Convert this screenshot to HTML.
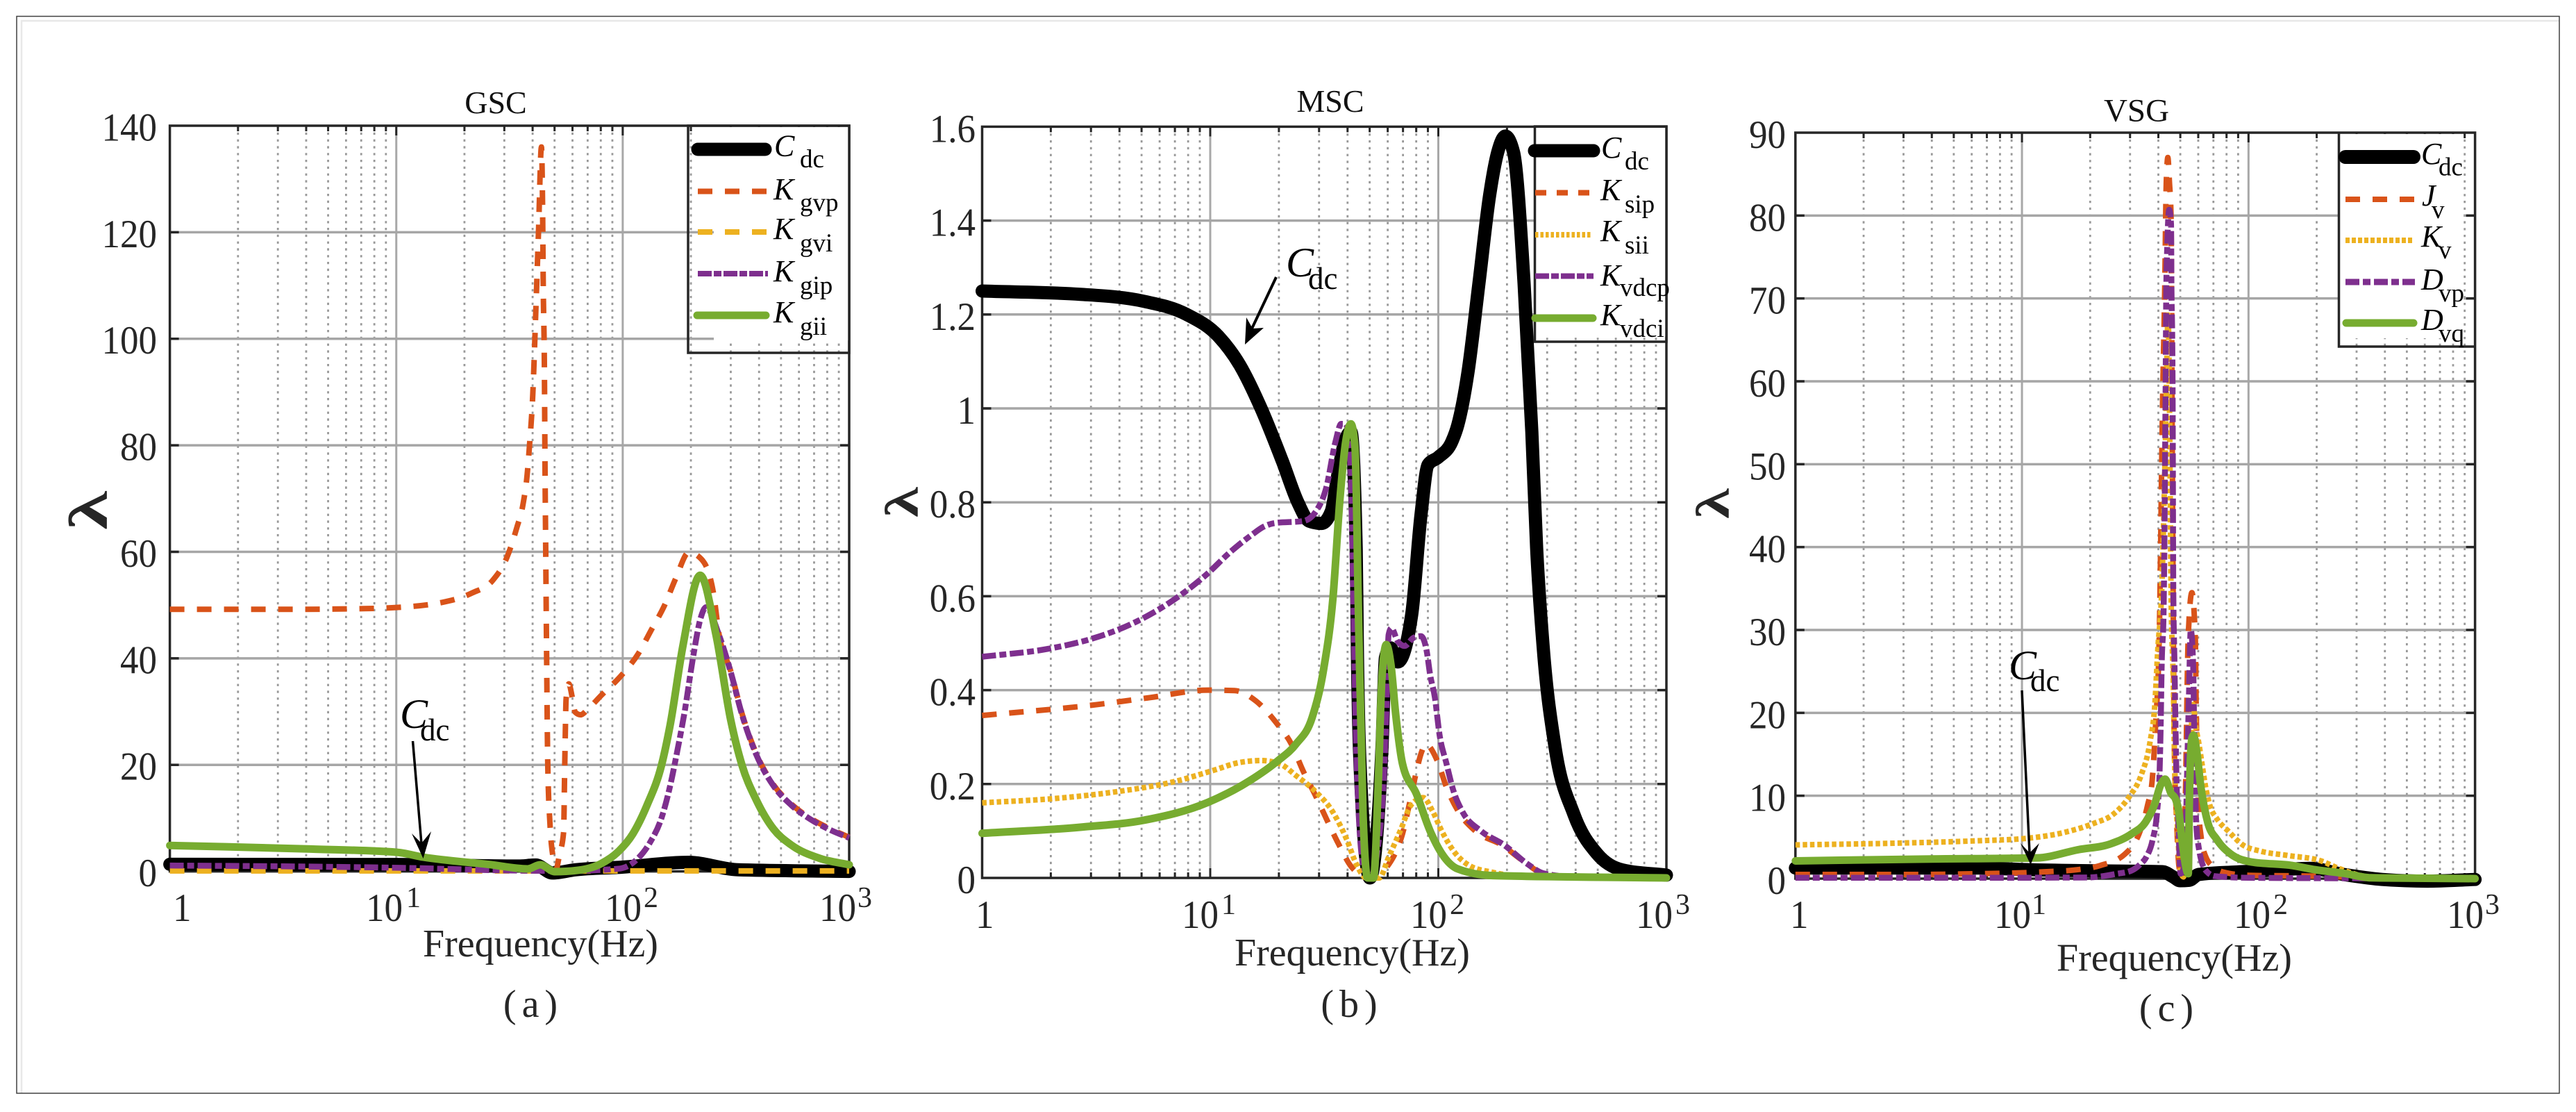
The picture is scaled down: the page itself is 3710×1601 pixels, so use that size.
<!DOCTYPE html>
<html lang="en">
<head>
<meta charset="utf-8">
<title>Participation factor λ versus frequency: GSC, MSC and VSG</title>
<style>
html,body{margin:0;padding:0;background:#fff;}
body{width:3710px;height:1601px;overflow:hidden;}
svg{display:block;}
text{font-family:"Liberation Serif","Noto Serif CJK SC",serif;fill:#262626;}
.it{font-style:italic;fill:#000;}
.sub{font-size:37px;fill:#000;}
.leg{font-size:44px;}
.note{fill:#000;}
</style>
</head>
<body>
<svg id="figure" xmlns="http://www.w3.org/2000/svg" width="3710" height="1601" viewBox="0 0 3710 1601">
  <rect x="0" y="0" width="3710" height="1601" fill="#ffffff"/>
  <path d="M31 1574V30H3686" fill="none" stroke="#e8e8e8" stroke-width="2.5"/>
  <rect x="24" y="23.5" width="3662" height="1550.5" fill="none" stroke="#404040" stroke-width="1.5"/>
  <g id="plots"></g>

  <!-- Panel a legend -->
  <g>
    <rect x="1028" y="183" width="194" height="307" fill="#fff"/>
    <rect x="991" y="181" width="232" height="327" fill="none" stroke="#262626" stroke-width="3.5"/>
    <line x1="1005" y1="215" x2="1102" y2="215" stroke="#000" stroke-width="19" stroke-linecap="round"/>
    <line x1="1005" y1="275.5" x2="1106" y2="275.5" stroke="#d95319" stroke-width="8" stroke-dasharray="21 18"/>
    <line x1="1005" y1="334" x2="1106" y2="334" stroke="#edb120" stroke-width="8" stroke-dasharray="21 18"/>
    <line x1="1005" y1="394" x2="1106" y2="394" stroke="#7e2f8e" stroke-width="8" stroke-dasharray="20 3 11 3"/>
    <line x1="1004" y1="454" x2="1103" y2="454" stroke="#77ac30" stroke-width="11" stroke-linecap="round"/>
    <text class="leg it" x="1115" y="224.5">C</text><text class="sub" x="1152" y="241">dc</text>
    <text class="leg it" x="1114" y="287">K</text><text class="sub" x="1152" y="303.5">gvp</text>
    <text class="leg it" x="1114" y="344">K</text><text class="sub" x="1152" y="362">gvi</text>
    <text class="leg it" x="1114" y="405">K</text><text class="sub" x="1152" y="423">gip</text>
    <text class="leg it" x="1114" y="464">K</text><text class="sub" x="1152" y="482">gii</text>
  </g>

  <!-- Panel b legend -->
  <g>
    <rect x="2211" y="184" width="188" height="301" fill="#fff"/>
    <rect x="2210.5" y="182" width="189.5" height="310" fill="none" stroke="#262626" stroke-width="3.5"/>
    <line x1="2210" y1="217" x2="2295" y2="217" stroke="#000" stroke-width="19" stroke-linecap="round"/>
    <line x1="2211" y1="277.5" x2="2295" y2="277.5" stroke="#d95319" stroke-width="8" stroke-dasharray="16 15"/>
    <line x1="2211" y1="338" x2="2291" y2="338" stroke="#edb120" stroke-width="8" stroke-dasharray="4.5 3"/>
    <line x1="2211" y1="397.5" x2="2295" y2="397.5" stroke="#7e2f8e" stroke-width="8" stroke-dasharray="20 3 11 3"/>
    <line x1="2211" y1="458" x2="2294" y2="458" stroke="#77ac30" stroke-width="11" stroke-linecap="round"/>
    <text class="leg it" x="2306" y="227">C</text><text class="sub" x="2340" y="244">dc</text>
    <text class="leg it" x="2305" y="288">K</text><text class="sub" x="2340" y="306">sip</text>
    <text class="leg it" x="2305" y="347">K</text><text class="sub" x="2340" y="365">sii</text>
    <text class="leg it" x="2305" y="411">K</text><text class="sub" x="2333" y="426">vdcp</text>
    <text class="leg it" x="2305" y="468">K</text><text class="sub" x="2333" y="485">vdci</text>
  </g>

  <!-- Panel c legend -->
  <g>
    <rect x="3370" y="193" width="178" height="294" fill="#fff"/>
    <path d="M3368.5 191V499H3564.6" fill="none" stroke="#262626" stroke-width="3.5"/>
    <line x1="3378" y1="226" x2="3476" y2="226" stroke="#000" stroke-width="20" stroke-linecap="round"/>
    <line x1="3378" y1="287" x2="3478" y2="287" stroke="#d95319" stroke-width="8" stroke-dasharray="21 18"/>
    <line x1="3378" y1="346" x2="3474" y2="346" stroke="#edb120" stroke-width="8" stroke-dasharray="6 3"/>
    <line x1="3378" y1="406" x2="3478" y2="406" stroke="#7e2f8e" stroke-width="9" stroke-dasharray="20 5 11 5"/>
    <line x1="3379" y1="465" x2="3476" y2="465" stroke="#77ac30" stroke-width="11" stroke-linecap="round"/>
    <text class="leg it" x="3487" y="236">C</text><text class="sub" x="3512" y="252.5">dc</text>
    <text class="leg it" x="3488" y="296">J</text><text class="sub" x="3502" y="314">v</text>
    <text class="leg it" x="3487" y="355">K</text><text class="sub" x="3512" y="372">v</text>
    <text class="leg it" x="3487" y="417">D</text><text class="sub" x="3512" y="434">vp</text>
    <text class="leg it" x="3487" y="475">D</text><text class="sub" x="3512" y="492">vq</text>
  </g>

  <!-- Annotations -->
  <g>
    <text class="it" font-size="60" x="576" y="1048">C</text>
    <text class="note" font-size="45" x="605" y="1066">dc</text>
    <line x1="594.5" y1="1067" x2="607" y2="1215" stroke="#000" stroke-width="3.5"/>
    <polygon points="609.5,1236 621,1197 607,1214 593,1200" fill="#000"/>
  </g>
  <g>
    <text class="it" font-size="60" x="1852" y="398">C</text>
    <text class="note" font-size="45" x="1884" y="416">dc</text>
    <line x1="1838" y1="399" x2="1803" y2="473" stroke="#000" stroke-width="4"/>
    <polygon points="1793,496 1795,457 1804,473 1820,472" fill="#000"/>
  </g>
  <g>
    <text class="it" font-size="60" x="2893" y="978">C</text>
    <text class="note" font-size="45" x="2924" y="995">dc</text>
    <line x1="2912" y1="994" x2="2923" y2="1228" stroke="#000" stroke-width="3.5"/>
    <polygon points="2924.5,1245 2937,1214 2923,1228 2910,1214" fill="#000"/>
  </g>

  <!-- Captions -->
  <text font-size="56" letter-spacing="8" x="768" y="1464" text-anchor="middle">(a)</text>
  <text font-size="56" letter-spacing="8" x="1947" y="1464" text-anchor="middle">(b)</text>
  <text font-size="56" letter-spacing="8" x="3124" y="1470" text-anchor="middle">(c)</text>
</svg>

<script>
// ---------- Chart data: lf = log10(frequency / Hz), values = lambda ----------
const decadeLabels = ["1", "10", "10", "10"];
const decadeExponents = ["", "1", "2", "3"];
const gscYTicks = [0, 20, 40, 60, 80, 100, 120, 140];
const gscYLabels = ["0", "20", "40", "60", "80", "100", "120", "140"];
const mscYTicks = [0, 0.2, 0.4, 0.6, 0.8, 1, 1.2, 1.4, 1.6];
const mscYLabels = ["0", "0.2", "0.4", "0.6", "0.8", "1", "1.2", "1.4", "1.6"];
const vsgYTicks = [0, 10, 20, 30, 40, 50, 60, 70, 80, 90];
const vsgYLabels = ["0", "10", "20", "30", "40", "50", "60", "70", "80", "90"];

// Panel (a) GSC
const gscCdcLf = [0, 1, 1.54, 1.616, 1.69, 1.79, 1.997, 2.29, 2.51, 3];
const gscCdcValues = [1.33, 1.3, 1, 1.2, -0.3, 0.3, 0.8, 1.7, 0.3, 0];
const gscKgvpLf = [0, 0.5, 0.8, 0.98, 1.234, 1.336, 1.425, 1.489, 1.532, 1.56, 1.578, 1.588, 1.603, 1.616, 1.628, 1.641, 1.646, 1.649, 1.654, 1.657, 1.66, 1.664, 1.669, 1.679, 1.692, 1.705, 1.72, 1.739, 1.743, 1.746, 1.75, 1.762, 1.777, 1.79, 1.814, 1.847, 1.904, 1.992, 2.069, 2.127, 2.184, 2.235, 2.292, 2.348, 2.4, 2.425, 2.477, 2.527, 2.59, 2.667, 2.743, 2.832, 2.921, 3];
const gscKgvpValues = [49.2, 49.2, 49.3, 49.5, 50.8, 52.3, 54.6, 59, 64.5, 69, 74.5, 79.8, 89.7, 105, 120, 136, 125, 110, 95, 75, 60, 40, 20, 8.7, 2.7, 0.3, 3, 7.4, 17.4, 24.9, 32.4, 35.2, 32.7, 29.9, 29.4, 30.5, 33, 36.7, 40.9, 45.4, 49.9, 55.1, 59.9, 58.6, 52.4, 44.6, 37.6, 29.6, 22.1, 16.2, 12.7, 9.9, 7.9, 6.4];
const gscKgviLf = [0, 1, 2, 3];
const gscKgviValues = [0.1, 0.1, 0.1, 0.1];
const gscKgipLf = [0, 0.5, 1.03, 1.54, 1.75, 1.98, 2.056, 2.12, 2.171, 2.209, 2.24, 2.273, 2.311, 2.343, 2.368, 2.425, 2.477, 2.527, 2.59, 2.667, 2.743, 2.832, 2.921, 3];
const gscKgipValues = [1.1, 0.95, 0.66, 0.15, 0.1, 0.5, 2, 5.4, 10, 16, 22.4, 29.9, 40.3, 47.4, 49.6, 44.4, 37.4, 29.4, 21.9, 16, 12.5, 9.7, 7.7, 6.3];
const gscKgiiLf = [0, 0.623, 1, 1.12, 1.41, 1.58, 1.636, 1.7, 1.8, 1.904, 1.98, 2.044, 2.108, 2.171, 2.209, 2.266, 2.342, 2.412, 2.477, 2.527, 2.59, 2.667, 2.743, 2.87, 3];
const gscKgiiValues = [4.87, 4.2, 3.6, 2.67, 1.3, 0.47, 1.25, -0.05, 0.2, 1.45, 3.7, 7, 12.5, 19.9, 27.4, 42.4, 55.6, 44.4, 28.4, 19.9, 13.4, 7.9, 5, 2.45, 1.25];

// Panel (b) MSC
const mscCdcLf = [0, 0.43, 0.71, 0.897, 1.037, 1.13, 1.223, 1.316, 1.386, 1.433, 1.488, 1.53, 1.56, 1.59, 1.617, 1.64, 1.645, 1.66, 1.7, 1.753, 1.768, 1.79, 1.822, 1.883, 1.924, 1.955, 2, 2.06, 2.085, 2.13, 2.178, 2.225, 2.26, 2.294, 2.33, 2.376, 2.41, 2.431, 2.46, 2.512, 2.594, 2.695, 2.807, 3];
const mscCdcValues = [1.25, 1.243, 1.228, 1.2, 1.153, 1.092, 1, 0.888, 0.798, 0.76, 0.755, 0.78, 0.86, 0.93, 0.95, 0.7, 0.49, 0.207, 0, 0.278, 0.469, 0.49, 0.46, 0.56, 0.773, 0.88, 0.896, 0.93, 0.964, 1.077, 1.266, 1.454, 1.545, 1.58, 1.545, 1.266, 0.95, 0.703, 0.49, 0.278, 0.136, 0.052, 0.017, 0.006];
const mscKsipLf = [0, 0.5, 0.734, 0.99, 1.106, 1.2, 1.295, 1.356, 1.407, 1.462, 1.513, 1.563, 1.62, 1.7, 1.802, 1.843, 1.873, 1.898, 1.928, 1.944, 1.995, 2.036, 2.086, 2.162, 2.279, 2.37, 2.482, 3];
const mscKsipValues = [0.346, 0.369, 0.384, 0.4, 0.399, 0.377, 0.327, 0.285, 0.228, 0.175, 0.122, 0.072, 0.023, 0, 0.044, 0.094, 0.157, 0.214, 0.27, 0.285, 0.25, 0.193, 0.143, 0.1, 0.07, 0.037, 0.005, 0];
const mscKsiiLf = [0, 0.314, 0.594, 0.85, 1.013, 1.13, 1.223, 1.305, 1.376, 1.457, 1.538, 1.6, 1.64, 1.685, 1.741, 1.782, 1.833, 1.883, 1.934, 1.974, 2.015, 2.066, 2.137, 2.238, 2.4, 3];
const mscKsiiValues = [0.16, 0.169, 0.184, 0.206, 0.229, 0.246, 0.25, 0.243, 0.218, 0.186, 0.14, 0.08, 0.03, 0, 0, 0.044, 0.1, 0.157, 0.171, 0.143, 0.1, 0.058, 0.026, 0.012, 0.002, 0];
const mscKvdcpLf = [0, 0.29, 0.478, 0.664, 0.827, 0.99, 1.083, 1.183, 1.234, 1.285, 1.407, 1.468, 1.508, 1.549, 1.574, 1.594, 1.615, 1.626, 1.64, 1.67, 1.7, 1.751, 1.772, 1.782, 1.794, 1.822, 1.852, 1.893, 1.924, 1.949, 1.964, 1.985, 2.005, 2.036, 2.066, 2.107, 2.187, 2.289, 2.39, 2.46, 2.6, 3];
const mscKvdcpValues = [0.471, 0.488, 0.509, 0.543, 0.588, 0.649, 0.692, 0.731, 0.748, 0.756, 0.76, 0.784, 0.83, 0.929, 0.967, 0.967, 0.879, 0.631, 0.278, 0.03, 0, 0.136, 0.349, 0.518, 0.532, 0.504, 0.494, 0.512, 0.515, 0.483, 0.433, 0.384, 0.306, 0.243, 0.186, 0.14, 0.1, 0.07, 0.03, 0.01, 0.002, 0];
const mscKvdciLf = [0, 0.43, 0.71, 0.99, 1.173, 1.295, 1.376, 1.447, 1.498, 1.538, 1.569, 1.594, 1.617, 1.635, 1.65, 1.67, 1.69, 1.716, 1.737, 1.752, 1.772, 1.792, 1.813, 1.843, 1.904, 1.964, 2.015, 2.086, 2.238, 3];
const mscKvdciValues = [0.095, 0.108, 0.123, 0.161, 0.207, 0.249, 0.285, 0.342, 0.447, 0.596, 0.809, 0.929, 0.967, 0.915, 0.56, 0.136, 0, 0, 0.207, 0.419, 0.497, 0.455, 0.349, 0.243, 0.179, 0.1, 0.052, 0.019, 0.005, 0];

// Panel (c) VSG
const vsgCdcLf = [0, 0.816, 1, 1.3, 1.62, 1.668, 1.698, 1.738, 1.78, 1.943, 2.1, 2.27, 2.42, 2.59, 2.79, 3];
const vsgCdcValues = [1.28, 1.28, 1.1, 0.95, 0.84, 0.2, -0.25, -0.2, 0.5, 0.8, 1, 1.24, 0.5, -0.1, -0.3, -0.1];
const vsgJvLf = [0, 0.5, 0.816, 0.993, 1.11, 1.228, 1.346, 1.453, 1.525, 1.554, 1.575, 1.59, 1.606, 1.621, 1.63, 1.637, 1.644, 1.651, 1.658, 1.664, 1.673, 1.683, 1.693, 1.708, 1.72, 1.734, 1.75, 1.765, 1.769, 1.78, 1.79, 1.811, 1.85, 1.903, 2, 2.3, 2.6, 3];
const vsgJvValues = [0.5, 0.5, 0.6, 0.7, 0.84, 1.03, 1.59, 2.93, 6, 8.8, 11.9, 18.6, 29.2, 58, 70.8, 84, 87, 84, 80, 50, 15.2, 6.8, 1.5, 0.1, 8, 29.2, 34.5, 29.2, 20.8, 8.2, 5.2, 2.66, 1.3, 0.7, 0.4, 0.3, 0.05, 0];
const vsgKvLf = [0, 0.446, 0.816, 1.013, 1.186, 1.32, 1.4, 1.474, 1.525, 1.566, 1.586, 1.6, 1.617, 1.635, 1.645, 1.652, 1.658, 1.668, 1.673, 1.688, 1.698, 1.713, 1.735, 1.755, 1.769, 1.779, 1.795, 1.811, 1.83, 1.861, 1.912, 1.973, 2.055, 2.172, 2.32, 2.394, 2.54, 3];
const vsgKvValues = [4.07, 4.28, 4.58, 4.84, 5.57, 6.7, 7.7, 9.9, 12.4, 16.6, 20.8, 27.8, 34.8, 55, 68, 55, 34.8, 23.6, 15.2, 5.4, 1.2, 0.2, 8, 21, 18, 16.6, 13.8, 11, 8.8, 7.2, 5.7, 4.1, 3.3, 2.8, 2.14, 1.28, 0.2, 0];
const vsgDvpLf = [0, 0.8, 1.29, 1.413, 1.484, 1.52, 1.55, 1.576, 1.597, 1.607, 1.612, 1.617, 1.625, 1.634, 1.637, 1.641, 1.65, 1.658, 1.66, 1.663, 1.665, 1.668, 1.673, 1.678, 1.683, 1.69, 1.7, 1.713, 1.724, 1.73, 1.737, 1.745, 1.755, 1.762, 1.769, 1.78, 1.811, 1.852, 2, 3];
const vsgDvpValues = [0.1, 0.1, 0.14, 0.56, 0.98, 1.68, 2.66, 4.6, 8.2, 12.4, 18, 26, 32, 59, 71, 76, 80.7, 79, 71, 66, 59, 34.8, 26.4, 18, 11, 6.8, 0.6, 1.2, 6.8, 14, 22, 30, 26.4, 15, 6.8, 3.8, 1, 0.3, 0.1, 0];
const vsgDvqLf = [0, 0.57, 1.065, 1.25, 1.392, 1.484, 1.545, 1.586, 1.612, 1.632, 1.658, 1.678, 1.693, 1.705, 1.734, 1.739, 1.75, 1.757, 1.769, 1.79, 1.82, 1.861, 1.92, 2.014, 2.188, 2.295, 2.42, 2.54, 3];
const vsgDvqValues = [2.14, 2.36, 2.5, 3.5, 4.2, 5.4, 6.8, 9, 11.3, 12, 10.3, 9.6, 8, 5, 0.6, 9.6, 16.9, 17.3, 15.8, 11, 6.8, 4.7, 3, 2, 1.6, 1.07, 0.64, 0.1, 0];

// ---------- Drawing ----------
const NS = "http://www.w3.org/2000/svg";
const root = document.getElementById("plots");

function make(parent, tag, attrs, text) {
  const el = document.createElementNS(NS, tag);
  for (const k in attrs) el.setAttribute(k, attrs[k]);
  if (text !== undefined) el.textContent = text;
  parent.appendChild(el);
  return el;
}

// Monotone cubic interpolation through the scaled points
function smoothPath(pts) {
  const n = pts.length;
  const seg = [];
  for (let i = 0; i < n - 1; i++) {
    const h = Math.max(pts[i + 1][0] - pts[i][0], 1e-6);
    seg.push({ h: h, s: (pts[i + 1][1] - pts[i][1]) / h });
  }
  const m = new Array(n);
  m[0] = seg[0].s;
  m[n - 1] = seg[n - 2].s;
  for (let i = 1; i < n - 1; i++) {
    const a = seg[i - 1], b = seg[i];
    const p = (a.s * b.h + b.s * a.h) / (a.h + b.h);
    m[i] = (Math.sign(a.s) + Math.sign(b.s)) * Math.min(Math.abs(a.s), Math.abs(b.s), 0.5 * Math.abs(p));
  }
  let d = "M" + pts[0][0].toFixed(2) + " " + pts[0][1].toFixed(2);
  for (let i = 0; i < n - 1; i++) {
    const h3 = seg[i].h / 3;
    d += "C" + (pts[i][0] + h3).toFixed(2) + " " + (pts[i][1] + m[i] * h3).toFixed(2) + " " +
      (pts[i + 1][0] - h3).toFixed(2) + " " + (pts[i + 1][1] - m[i + 1] * h3).toFixed(2) + " " +
      pts[i + 1][0].toFixed(2) + " " + pts[i + 1][1].toFixed(2);
  }
  return d;
}

const dashStyle = { color: "#d95319", width: 8, dash: "21 18" };
const dotStyle = { color: "#edb120", width: 8, dash: "6.5 4" };
const yellowDash = { color: "#edb120", width: 8, dash: "21 18" };
const purpleStyle = { color: "#7e2f8e", width: 8.5, dash: "20 5 10 5" };
const greenStyle = { color: "#77ac30", width: 11, round: true };
const blackStyle = { color: "#000000", width: 19, round: true };

const panels = [
  {
    name: "gsc", title: "GSC", titleX: 714, titleY: 163, titleSize: 46,
    left: 244.6, right: 1223, top: 181, bottom: 1254.6, yMax: 140,
    yTicks: gscYTicks, yLabels: gscYLabels, yLabelRight: 226, yLabelDy: 21.5, tickSize: 57,
    xBase: 1326, xLabelX: [249, 527, 871, 1180], supX: [0, 585, 927, 1235], supDy: -20,
    xLabelSize: 57, xTitleX: 609, xTitleY: 1377, lambdaX: 135, lambdaY: 735, lambdaSize: 78, lambdaStretch: 1.45,
    series: [
      { key: "cdc", lf: gscCdcLf, values: gscCdcValues, style: blackStyle },
      { key: "kgvp", lf: gscKgvpLf, values: gscKgvpValues, style: dashStyle },
      { key: "kgvi", lf: gscKgviLf, values: gscKgviValues, style: yellowDash },
      { key: "kgip", lf: gscKgipLf, values: gscKgipValues, style: purpleStyle },
      { key: "kgii", lf: gscKgiiLf, values: gscKgiiValues, style: greenStyle }
    ]
  },
  {
    name: "msc", title: "MSC", titleX: 1916, titleY: 161, titleSize: 46,
    left: 1414.5, right: 2400, top: 182.4, bottom: 1264, yMax: 1.6,
    yTicks: mscYTicks, yLabels: mscYLabels, yLabelRight: 1405, yLabelDy: 22, tickSize: 57,
    xBase: 1336, xLabelX: [1405, 1702, 2031, 2356], supX: [0, 1759, 2088, 2413], supDy: -20,
    xLabelSize: 57, xTitleX: 1778, xTitleY: 1390, lambdaX: 1305, lambdaY: 723, lambdaSize: 68, lambdaStretch: 1.3,
    series: [
      { key: "cdc", lf: mscCdcLf, values: mscCdcValues, style: blackStyle },
      { key: "ksip", lf: mscKsipLf, values: mscKsipValues, style: dashStyle },
      { key: "ksii", lf: mscKsiiLf, values: mscKsiiValues, style: dotStyle },
      { key: "kvdcp", lf: mscKvdcpLf, values: mscKvdcpValues, style: purpleStyle },
      { key: "kvdci", lf: mscKvdciLf, values: mscKvdciValues, style: greenStyle }
    ]
  },
  {
    name: "vsg", title: "VSG", titleX: 3077, titleY: 174.5, titleSize: 47,
    left: 2585.8, right: 3564.6, top: 191, bottom: 1265, yMax: 90,
    yTicks: vsgYTicks, yLabels: vsgYLabels, yLabelRight: 2572, yLabelDy: 22, tickSize: 57,
    xBase: 1336, xLabelX: [2578, 2872, 3217, 3524], supX: [0, 2926, 3274, 3579], supDy: -20,
    xLabelSize: 57, xTitleX: 2962, xTitleY: 1397.7, lambdaX: 2473, lambdaY: 725, lambdaSize: 68, lambdaStretch: 1.3,
    series: [
      { key: "cdc", lf: vsgCdcLf, values: vsgCdcValues, style: blackStyle },
      { key: "jv", lf: vsgJvLf, values: vsgJvValues, style: dashStyle },
      { key: "kv", lf: vsgKvLf, values: vsgKvValues, style: dotStyle },
      { key: "dvp", lf: vsgDvpLf, values: vsgDvpValues, style: purpleStyle },
      { key: "dvq", lf: vsgDvqLf, values: vsgDvqValues, style: greenStyle }
    ]
  }
];

function drawPanel(p) {
  const xScale = function (lf) { return p.left + (p.right - p.left) * lf / 3; };
  const yScale = function (v) { return p.bottom - (p.bottom - p.top) * v / p.yMax; };

  const group = make(root, "g", {});
  
  

  // Minor vertical grid
  for (let dec = 0; dec < 3; dec++) {
    for (let m = 2; m <= 9; m++) {
      const x = xScale(dec + Math.log10(m));
      const minor = make(group, "line", { x1: x, x2: x, y1: p.top, y2: p.bottom, stroke: "#999999", "stroke-width": 2.8, "stroke-dasharray": "3.3 6.5" });
      
      
      const t1 = make(group, "line", { x1: x, x2: x, y1: p.top, y2: p.top + 8, stroke: "#262626", "stroke-width": 3 });
      
      
      const t2 = make(group, "line", { x1: x, x2: x, y1: p.bottom, y2: p.bottom - 8, stroke: "#262626", "stroke-width": 3 });
      
      
    }
  }
  // Major vertical grid
  for (let dec = 1; dec < 3; dec++) {
    const x = xScale(dec);
    const major = make(group, "line", { x1: x, x2: x, y1: p.top, y2: p.bottom, stroke: "#a8a8a8", "stroke-width": 3 });
    
    
    const t1 = make(group, "line", { x1: x, x2: x, y1: p.top, y2: p.top + 14, stroke: "#262626", "stroke-width": 3 });
    
    
    const t2 = make(group, "line", { x1: x, x2: x, y1: p.bottom, y2: p.bottom - 14, stroke: "#262626", "stroke-width": 3 });
    
    
  }
  // Horizontal grid, y ticks and y labels
  p.yTicks.forEach(function (v, i) {
    const y = yScale(v);
    if (i > 0 && i < p.yTicks.length - 1) {
      const grid = make(group, "line", { x1: p.left, x2: p.right, y1: y, y2: y, stroke: "#a6a6a6", "stroke-width": 3.5 });
      
      
      const t1 = make(group, "line", { x1: p.left, x2: p.left + 13, y1: y, y2: y, stroke: "#262626", "stroke-width": 3.5 });
      
      
      const t2 = make(group, "line", { x1: p.right, x2: p.right - 13, y1: y, y2: y, stroke: "#262626", "stroke-width": 3.5 });
      
      
    }
    const label = make(group, "text", { transform: "translate(" + p.yLabelRight + " " + (y + p.yLabelDy) + ") scale(0.93 1)", "text-anchor": "end", "font-size": p.tickSize }, p.yLabels[i]);
    
    
  });
  // X tick labels
  decadeLabels.forEach(function (txt, i) {
    const label = make(group, "text", { transform: "translate(" + p.xLabelX[i] + " " + p.xBase + ") scale(0.93 1)", "font-size": p.xLabelSize }, txt);
    
    
    if (decadeExponents[i]) {
      const sup = make(group, "text", { x: p.supX[i], y: p.xBase + p.supDy, "font-size": 42 }, decadeExponents[i]);
      
      
    }
  });
  // Axes box
  const box = make(group, "rect", { x: p.left, y: p.top, width: p.right - p.left, height: p.bottom - p.top, fill: "none", stroke: "#262626", "stroke-width": 3.5 });
  
  

  // Titles
  const title = make(group, "text", { x: p.titleX, y: p.titleY, "text-anchor": "middle", "font-size": p.titleSize }, p.title);
  
  
  title.style.fill = "#111";
  const xTitle = make(group, "text", { x: p.xTitleX, y: p.xTitleY, "font-size": 56 }, "Frequency(Hz)");
  
  
  const yTitle = make(group, "text", { transform: "translate(" + p.lambdaX + " " + p.lambdaY + ") rotate(-90) scale(" + p.lambdaStretch + " 1)", y: p.lambdaSize * 0.24, "text-anchor": "middle", "font-size": p.lambdaSize, "font-weight": "bold" }, "λ");
  
  

  // Curves
  p.series.forEach(function (s) {
    const pts = s.lf.map(function (lf, i) { return [xScale(lf), yScale(s.values[i])]; });
    const attrs = { d: smoothPath(pts), fill: "none", stroke: s.style.color, "stroke-width": s.style.width, "stroke-linejoin": "round" };
    if (s.style.round) attrs["stroke-linecap"] = "round";
    if (s.style.dash) attrs["stroke-dasharray"] = s.style.dash;
    const curve = make(group, "path", attrs);
    
    
  });
}

panels.forEach(drawPanel);
</script>
</body>
</html>
